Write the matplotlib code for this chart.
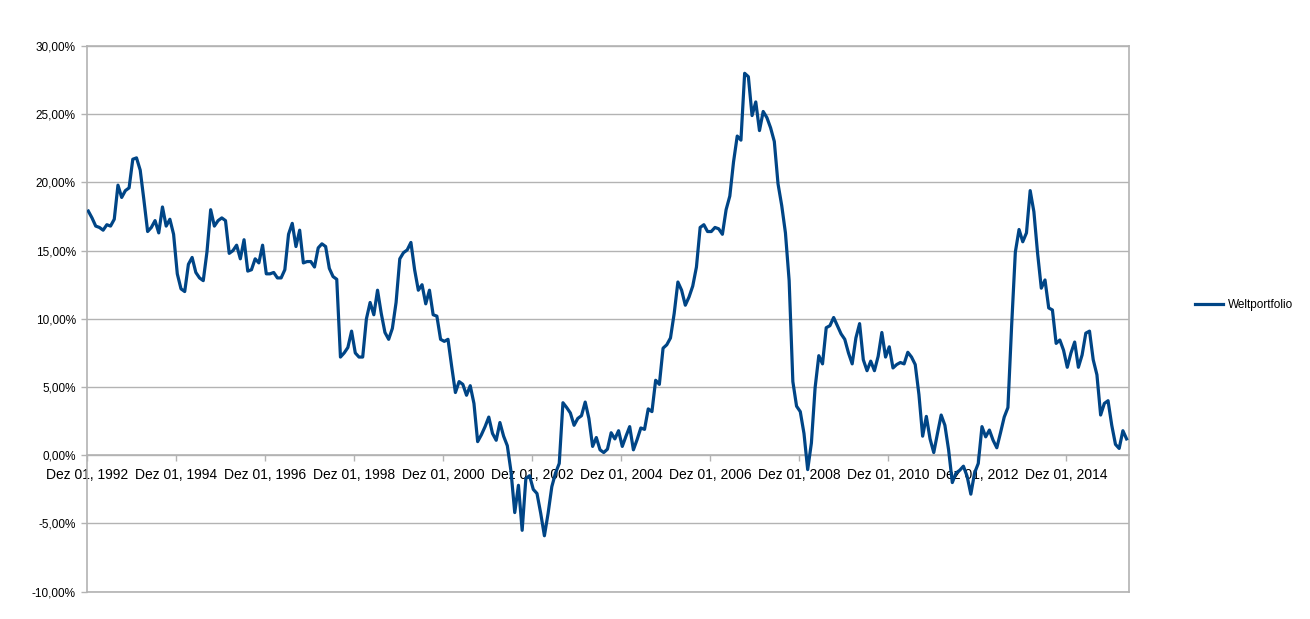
import matplotlib
matplotlib.use("Agg")
import matplotlib.pyplot as plt
import numpy as np

# Monthly values (%) starting Dec 1992
weltportfolio = [
    17.9, 17.4, 16.8, 16.7, 16.5, 16.9, 16.8, 17.3, 19.8, 18.9,
    19.4, 19.6, 21.7, 21.8, 20.9, 18.7, 16.4, 16.7, 17.2, 16.3,
    18.2, 16.8, 17.3, 16.2, 13.3, 12.2, 12.0, 14.0, 14.5, 13.4,
    13.0, 12.8, 14.9, 18.0, 16.8, 17.2, 17.4, 17.2, 14.8, 15.0,
    15.4, 14.4, 15.8, 13.5, 13.6, 14.4, 14.1, 15.4, 13.3, 13.3,
    13.4, 13.0, 13.0, 13.6, 16.2, 17.0, 15.3, 16.5, 14.1, 14.2,
    14.2, 13.8, 15.2, 15.5, 15.3, 13.7, 13.1, 12.9, 7.2, 7.5,
    7.9, 9.1, 7.5, 7.2, 7.2, 10.0, 11.2, 10.3, 12.1, 10.4,
    9.0, 8.5, 9.3, 11.2, 14.4, 14.85, 15.05, 15.6, 13.6, 12.1,
    12.5, 11.1, 12.1, 10.3, 10.2, 8.5, 8.35, 8.5, 6.5, 4.6,
    5.4, 5.2, 4.4, 5.1, 3.8, 1.0, 1.5, 2.1, 2.8, 1.6,
    1.1, 2.4, 1.4, 0.7, -1.2, -4.2, -2.2, -5.5, -1.7, -1.5,
    -2.5, -2.8, -4.25, -5.9, -4.25, -2.3, -1.3, -0.6, 3.85, 3.5,
    3.1, 2.2, 2.7, 2.9, 3.9, 2.7, 0.65, 1.3, 0.4, 0.2,
    0.45, 1.65, 1.2, 1.8, 0.65, 1.4, 2.1, 0.4, 1.15, 2.0,
    1.9, 3.4, 3.2, 5.5, 5.2, 7.85, 8.1, 8.6, 10.4, 12.7,
    12.1, 11.0, 11.6, 12.4, 13.8, 16.7, 16.9, 16.4, 16.4, 16.7,
    16.6, 16.2, 18.0, 19.0, 21.5, 23.4, 23.1, 28.0, 27.75, 24.9,
    25.9, 23.8, 25.2, 24.75, 24.0, 23.0, 19.9, 18.3, 16.3, 12.8,
    5.4, 3.6, 3.2, 1.6, -1.05, 0.9, 4.95, 7.3, 6.7, 9.35,
    9.5, 10.1, 9.5, 8.9, 8.5, 7.5, 6.7, 8.6, 9.65, 7.0,
    6.2, 6.9, 6.2, 7.25, 9.0, 7.2, 7.95, 6.4, 6.65, 6.8,
    6.7, 7.55, 7.2, 6.65, 4.45, 1.4, 2.85, 1.2, 0.2, 1.6,
    2.95, 2.2, 0.4, -2.0, -1.3, -1.1, -0.8, -1.55, -2.85, -1.3,
    -0.6, 2.1, 1.35, 1.85, 1.1, 0.55, 1.65, 2.8, 3.5, 9.5,
    14.9, 16.55, 15.65, 16.3, 19.4, 17.85, 14.8, 12.25, 12.85, 10.8,
    10.65, 8.2, 8.45, 7.7, 6.45, 7.5, 8.3, 6.45, 7.35, 8.95,
    9.1, 7.0, 5.9, 2.95, 3.8, 4.0, 2.2, 0.8, 0.5, 1.8,
    1.2,
]
tick_labels = ["Dez 01, 1992", "Dez 01, 1994", "Dez 01, 1996", "Dez 01, 1998",
               "Dez 01, 2000", "Dez 01, 2002", "Dez 01, 2004", "Dez 01, 2006",
               "Dez 01, 2008", "Dez 01, 2010", "Dez 01, 2012", "Dez 01, 2014"]
y_ticks = [-10, -5, 0, 5, 10, 15, 20, 25, 30]
series_name = "Weltportfolio"

W, H = 1310, 619
fig = plt.figure(figsize=(W / 100, H / 100), dpi=100)
plt.rcParams['font.family'] = ['Liberation Sans', 'DejaVu Sans']
left, right, top, bottom = 87, 1129, 46, 591.7
ax = fig.add_axes([left / W, 1 - bottom / H, (right - left) / W, (bottom - top) / H])

grid_c = "#b3b3b3"
line_c = "#004586"
fs = 8.5

months = np.arange(len(weltportfolio)) + 0.35
ax.plot(months, weltportfolio, color=line_c, lw=2.3, solid_joinstyle='round',
        label=series_name, zorder=3)

ax.set_xlim(0, 281)
ax.set_ylim(-10, 30)
ax.set_yticks(y_ticks)
ax.set_yticklabels([f"{v:.2f}".replace('.', ',') + "%" for v in y_ticks], fontsize=fs)
ax.set_xticks(np.arange(len(tick_labels)) * 24)
ax.set_xticklabels(tick_labels, fontsize=fs)

ax.grid(axis='y', color=grid_c, lw=1, zorder=0)
ax.axhline(-10, color=grid_c, lw=1.2, clip_on=False, zorder=1)
for s in ['left', 'right', 'top']:
    ax.spines[s].set_color(grid_c)
    ax.spines[s].set_linewidth(1.2)
ax.spines['bottom'].set_position(('data', 0))
ax.spines['bottom'].set_color(grid_c)
ax.spines['bottom'].set_linewidth(1.2)
ax.tick_params(axis='y', colors=grid_c, labelcolor='black', length=4, width=1, pad=4)
ax.tick_params(axis='x', colors=grid_c, labelcolor='black', length=4, width=1, pad=5)

leg = fig.legend(loc='center left', bbox_to_anchor=(1195 / W, 1 - 305 / H),
                 frameon=False, fontsize=fs, handlelength=2.4, handletextpad=0.4,
                 borderpad=0, borderaxespad=0)
for t in leg.get_texts():
    t.set_color('black')

fig.savefig("out.png", dpi=100)
